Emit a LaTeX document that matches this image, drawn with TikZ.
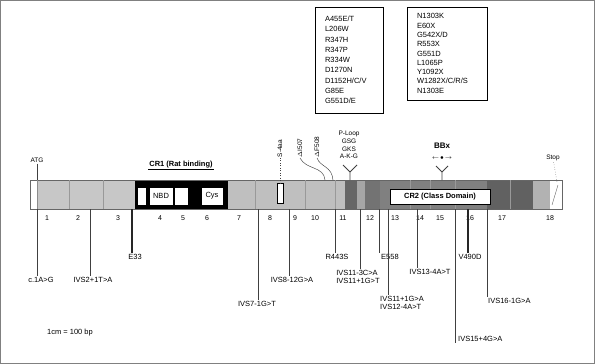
\documentclass[tikz,border=0pt]{standalone}
\usepackage{fontspec}
\setmainfont{Liberation Sans}
\begin{document}
\begin{tikzpicture}[x=1pt,y=-1pt,
  txt/.style={font=\fontsize{7.5}{8.5}\selectfont,inner sep=1pt,align=left},
  num/.style={font=\fontsize{7}{8}\selectfont,inner sep=0pt},
  rot/.style={font=\fontsize{6.5}{7}\selectfont,inner sep=0.5pt,rotate=90,anchor=west},
  wbox/.style={draw,fill=white,line width=0.8pt,inner sep=0pt,font=\fontsize{7.5}{8.5}\selectfont},
  listbox/.style={draw,line width=0.5pt,inner sep=0pt,align=left,text width=56pt,font=\fontsize{7.5}{10.3}\selectfont},
  lead/.style={line width=0.45pt,black!75},
  thick lead/.style={line width=1.4pt,black!85}]

\useasboundingbox (0,0) rectangle (595,364);
\draw [black!50] (0.5,0.5) rectangle (594.5,363.5);

\fill [black!22] (38,180)  rectangle (135,209);
\fill [black]    (135,180) rectangle (228,209);
\fill [black!25] (228,180) rectangle (345,209);
\fill [black!60] (345,180) rectangle (357,209);
\fill [black!35] (357,180) rectangle (365,209);
\fill [black!55] (365,180) rectangle (380,209);
\fill [black!50] (380,180) rectangle (487,209);
\fill [black!62] (487,180) rectangle (533,209);
\fill [black!30] (533,180) rectangle (550,209);
\draw [black!60] (30,180) rectangle (562,209);
\draw [black!45] (37,180) -- (37,209);
\foreach \x in {69,103,255,305,335,410,430,455,510}
  \draw [black!40,line width=0.3pt] (\x,180) -- (\x,209);
\draw [black!60] (552,205) -- (558,185);

\node [wbox,minimum width=9,minimum height=18]  (cra)  at (142,196) {};
\node [wbox,minimum width=24,minimum height=18] (nbd)  at (161,196) {NBD};
\node [wbox,minimum width=14,minimum height=18] (crb)  at (181,196) {};
\node [wbox,minimum width=22,minimum height=18] (cys)  at (212,196) {Cys};
\node [txt,font=\bfseries\fontsize{7.5}{8.5}\selectfont] (cr1) at (181,165) {CR1 (Rat binding)};
\draw [line width=1.2pt] (cr1.south west) -- (cr1.south east);
\node [wbox,line width=0.5pt,minimum width=100,minimum height=15,font=\bfseries\fontsize{7.5}{8.5}\selectfont]
      (cr2) at (440,197) {CR2 (Class Domain)};
\node [draw,fill=white,minimum width=6,minimum height=20,inner sep=0pt] (lbs) at (280.5,193) {};

\node [num] (e1)  at ( 47,218) {1};
\node [num] (e2)  at ( 78,218) {2};
\node [num] (e3)  at (118,218) {3};
\node [num] (e4)  at (160,218) {4};
\node [num] (e5)  at (183,218) {5};
\node [num] (e6)  at (207,218) {6};
\node [num] (e7)  at (239,218) {7};
\node [num] (e8)  at (270,218) {8};
\node [num] (e9)  at (295,218) {9};
\node [num] (e10) at (315,218) {10};
\node [num] (e11) at (343,218) {11};
\node [num] (e12) at (370,218) {12};
\node [num] (e13) at (395,218) {13};
\node [num] (e14) at (420,218) {14};
\node [num] (e15) at (440,218) {15};
\node [num] (e16) at (470,218) {16};
\node [num] (e17) at (502,218) {17};
\node [num] (e18) at (550,218) {18};

\node [txt,font=\fontsize{6.5}{7}\selectfont] (atg)  at ( 37,160) {ATG};
\node [txt,font=\fontsize{6.5}{7}\selectfont] (stop) at (553,158) {Stop};
\coordinate (atgbar)  at (37,180);
\coordinate (stopbar) at (557,182);
\draw [lead] (atg) -- (atgbar);
\draw [lead,dotted] (stop) -- (stopbar);

\node [rot] (s4aa) at (280,158) {S-4aa};
\node [rot] (d507) at (300,158) {$\Delta$I507};
\node [rot] (d508) at (317,158) {$\Delta$F508};
\coordinate (s4bar)  at (280,183);
\coordinate (a507) at (325,180);
\coordinate (a508) at (333,180);
\draw [lead,dotted] (s4aa.west) -- (s4bar);
\draw [lead] (d507.west) .. controls (306,170) and (324,166) .. (a507);
\draw [lead] (d508.west) .. controls (320,167) and (332,166) .. (a508);

\node [txt,align=center,font=\fontsize{6.5}{7.8}\selectfont] (ploop) at (349,145) {P-Loop\\GSG\\GKS\\A-K-G};
\coordinate (plfork) at (350,172);
\coordinate (plbar)  at (350,180);
\draw [lead,line width=0.8pt] (plbar) -- (plfork) -- ++(-7,-7);
\draw [lead,line width=0.8pt] (plfork) -- ++(7,-7);

\node [txt,font=\bfseries\fontsize{8}{9}\selectfont] (bbx) at (442,146) {BBx};
\node [txt,font=\fontsize{6}{7}\selectfont] (bbarr) at (442,158) {$\leftarrow\!\bullet\!\rightarrow$};
\coordinate (bbfork) at (442,172);
\coordinate (bbbar)  at (442,180);
\draw [lead,line width=0.8pt] (bbbar) -- (bbfork) -- ++(-6,-6);
\draw [lead,line width=0.8pt] (bbfork) -- ++(6,-6);

\node [listbox,text width=60pt,minimum width=68,minimum height=106] (mild) at (349,60)
  {\hspace*{6pt}A455E/T\\\hspace*{6pt}L206W\\\hspace*{6pt}R347H\\\hspace*{6pt}R347P\\\hspace*{6pt}R334W\\
   \hspace*{6pt}D1270N\\\hspace*{6pt}D1152H/C/V\\\hspace*{6pt}G85E\\\hspace*{6pt}G551D/E};
\node [listbox,text width=72pt,minimum width=80,minimum height=93,font=\fontsize{7.5}{9.3}\selectfont] (severe) at (447,53.5)
  {\hspace*{6pt}N1303K\\\hspace*{6pt}E60X\\\hspace*{6pt}G542X/D\\\hspace*{6pt}R553X\\\hspace*{6pt}G551D\\
   \hspace*{6pt}L1065P\\\hspace*{6pt}Y1092X\\\hspace*{6pt}W1282X/C/R/S\\\hspace*{6pt}N1303E};

\coordinate (m1)  at ( 37,209);
\coordinate (m2)  at ( 90,209);
\coordinate (m3)  at (132,209);
\coordinate (m4)  at (258,209);
\coordinate (m5)  at (289,209);
\coordinate (m6)  at (335,209);
\coordinate (m7)  at (360,209);
\coordinate (m8)  at (379,209);
\coordinate (m9)  at (388,209);
\coordinate (m10) at (417,209);
\coordinate (m11) at (455,209);
\coordinate (m12) at (468,209);
\coordinate (m13) at (487,209);

\node [txt,anchor=north] (c1)   at ( 41,276) {c.1A>G};
\node [txt,anchor=north] (ivs2) at ( 93,276) {IVS2+1T>A};
\node [txt,anchor=north] (e33)  at (135,253) {E33};
\node [txt,anchor=north] (ivs7) at (257,300) {IVS7-1G>T};
\node [txt,anchor=north] (ivs8) at (292,276) {IVS8-12G>A};
\node [txt,anchor=north] (r443) at (337,253) {R443S};
\node [txt,anchor=north] (ivs11a) at (358,269) {IVS11-3C>A\\IVS11+1G>T};
\node [txt,anchor=north west] (e558) at (380,253) {E558};
\node [txt,anchor=north west] (ivs11b) at (379,295) {IVS11+1G>A\\IVS12-4A>T};
\node [txt,anchor=north] (ivs13) at (430,268) {IVS13-4A>T};
\node [txt,anchor=south west] (ivs15) at (457,343) {IVS15+4G>A};
\node [txt,anchor=north] (v490) at (470,253) {V490D};
\node [txt,anchor=north west] (ivs16) at (487,297) {IVS16-1G>A};

\draw [lead]       (m1)  -- (m1 |- c1.north);
\draw [lead]       (m2)  -- (m2 |- ivs2.north);
\draw [thick lead] (m3)  -- (m3 |- e33.north);
\draw [lead]       (m4)  -- (m4 |- ivs7.north);
\draw [lead]       (m5)  -- (m5 |- ivs8.north);
\draw [lead]       (m6)  -- (m6 |- r443.north);
\draw [lead]       (m7)  -- (m7 |- ivs11a.north);
\draw [lead]       (m8)  -- (m8 |- e558.north);
\draw [lead]       (m9)  -- (m9 |- ivs11b.north);
\draw [lead]       (m10) -- (m10 |- ivs13.north);
\draw [lead]       (m11) -- (m11 |- ivs15.south);
\draw [thick lead] (m12) -- (m12 |- v490.north);
\draw [lead]       (m13) -- (m13 |- ivs16.north);

\node [txt] (scale) at (70,333) {1cm = 100 bp};
\end{tikzpicture}
\end{document}
